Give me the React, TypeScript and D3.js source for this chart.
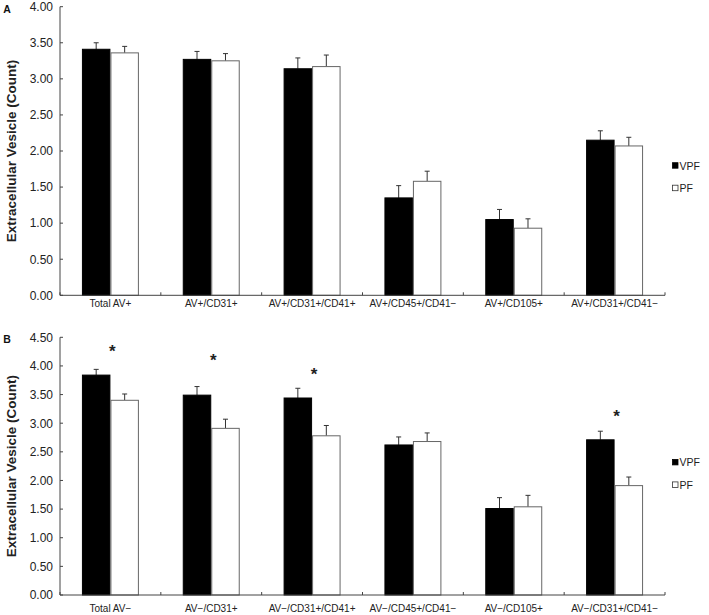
import React from "react";
import * as d3 from "d3";

// ---------- DATA ----------
const seriesNames = ["VPF", "PF"];

const categoriesA = ["Total AV+", "AV+/CD31+", "AV+/CD31+/CD41+", "AV+/CD45+/CD41\u2212", "AV+/CD105+", "AV+/CD31+/CD41\u2212"];
const vpfA = [3.41, 3.27, 3.14, 1.35, 1.05, 2.15];
const vpfErrA = [0.09, 0.11, 0.15, 0.17, 0.14, 0.13];
const pfA = [3.36, 3.25, 3.17, 1.58, 0.93, 2.07];
const pfErrA = [0.09, 0.10, 0.16, 0.14, 0.13, 0.12];
const ticksA = [0, 0.5, 1, 1.5, 2, 2.5, 3, 3.5, 4];

const categoriesB = ["Total AV\u2212", "AV\u2212/CD31+", "AV\u2212/CD31+/CD41+", "AV\u2212/CD45+/CD41\u2212", "AV\u2212/CD105+", "AV\u2212/CD31+/CD41\u2212"];
const vpfB = [3.84, 3.49, 3.44, 2.62, 1.51, 2.71];
const vpfErrB = [0.10, 0.15, 0.17, 0.14, 0.19, 0.15];
const pfB = [3.40, 2.91, 2.78, 2.68, 1.54, 1.91];
const pfErrB = [0.11, 0.16, 0.18, 0.15, 0.20, 0.15];
const ticksB = [0, 0.5, 1, 1.5, 2, 2.5, 3, 3.5, 4, 4.5];
const starsB = [4.31, 4.15, 3.92, null, null, 3.17];

const yTitle = "Extracellular Vesicle (Count)";

// ---------- LAYOUT ----------
const W = 709;
const H = 615;
const X0 = 60;
const X1 = 665;
const FONT = "Arial, 'Liberation Sans', Helvetica, sans-serif";
const AXIS = "#444";

type PanelProps = {
  letter: string;
  top: number;
  bottom: number;
  yMax: number;
  ticks: number[];
  categories: string[];
  vpf: number[];
  vpfErr: number[];
  pf: number[];
  pfErr: number[];
  stars?: (number | null)[];
  labelOffset: number;
  legendY: number;
};

function Panel(p: PanelProps) {
  const x = d3.scaleBand<string>().domain(p.categories).range([X0, X1]).padding(0);
  const y = d3.scaleLinear().domain([0, p.yMax]).range([p.bottom, p.top]);
  const groupW = x.bandwidth() * 0.565;
  const sub = d3.scaleBand<string>().domain(seriesNames).range([-groupW / 2, groupW / 2]).padding(0);
  const series = [
    { name: "VPF", vals: p.vpf, errs: p.vpfErr, fill: "#000", stroke: "#000" },
    { name: "PF", vals: p.pf, errs: p.pfErr, fill: "#fff", stroke: "#666" },
  ];
  const fmt = d3.format(".2f");
  const boundaries = [X0, ...p.categories.map((c) => (x(c) as number) + x.bandwidth())];
  return (
    <g>
      <text x={3.3} y={p.top + 6} fontFamily={FONT} fontWeight="bold" fontSize={10.5} fill="#111">
        {p.letter}
      </text>
      <text
        transform={`translate(15.5,${(p.top + p.bottom) / 2}) rotate(-90)`}
        textAnchor="middle"
        fontFamily={FONT}
        fontWeight="bold"
        fontSize={13.5}
        fill="#222"
      >
        {yTitle}
      </text>
      {/* bars */}
      {series.map((s) =>
        p.categories.map((c, i) => {
          const cx = (x(c) as number) + x.bandwidth() / 2;
          const bx = cx + (sub(s.name) as number);
          const bw = sub.bandwidth();
          const yv = y(s.vals[i]);
          const ye = y(s.vals[i] + s.errs[i]);
          const mx = bx + bw / 2;
          return (
            <g key={s.name + c}>
              <line x1={mx} x2={mx} y1={yv} y2={ye} stroke="#333" strokeWidth={1} />
              <line x1={mx - 2.5} x2={mx + 2.5} y1={ye} y2={ye} stroke="#333" strokeWidth={1} />
              <rect
                x={bx + 0.5}
                y={yv}
                width={bw - 1}
                height={p.bottom - yv}
                fill={s.fill}
                stroke={s.stroke}
                strokeWidth={1}
              />
            </g>
          );
        })
      )}
      {/* stars */}
      {p.stars &&
        p.stars.map((v, i) =>
          v == null ? null : (
            <text
              key={"st" + i}
              x={(x(p.categories[i]) as number) + x.bandwidth() / 2 + 2}
              y={y(v) + 9}
              textAnchor="middle"
              fontFamily={FONT}
              fontWeight="bold"
              fontSize={17}
              fill="#222"
            >
              *
            </text>
          )
        )}
      {/* y axis */}
      <line x1={X0} x2={X0} y1={p.top} y2={p.bottom} stroke={AXIS} strokeWidth={1} />
      {p.ticks.map((t) => (
        <g key={"t" + t}>
          <line x1={X0} x2={X0 + 3} y1={y(t)} y2={y(t)} stroke={AXIS} strokeWidth={1} />
          <text x={53} y={y(t)} dy="0.36em" textAnchor="end" fontFamily={FONT} fontSize={12} fill="#222">
            {fmt(t)}
          </text>
        </g>
      ))}
      {/* x axis */}
      <line x1={X0} x2={X1} y1={p.bottom} y2={p.bottom} stroke={AXIS} strokeWidth={1} />
      {boundaries.map((b, i) => (
        <line key={"b" + i} x1={b} x2={b} y1={p.bottom} y2={p.bottom - 3} stroke={AXIS} strokeWidth={1} />
      ))}
      {p.categories.map((c) => (
        <text
          key={"c" + c}
          x={(x(c) as number) + x.bandwidth() / 2}
          y={p.bottom + p.labelOffset}
          textAnchor="middle"
          fontFamily={FONT}
          fontSize={10}
          fill="#222"
        >
          {c}
        </text>
      ))}
      {/* legend */}
      {series.map((s, i) => (
        <g key={"lg" + s.name}>
          <rect
            x={672.5}
            y={p.legendY + i * 22.5 - 2.8}
            width={5.5}
            height={5.5}
            fill={s.fill}
            stroke={s.name === "PF" ? "#333" : "#000"}
            strokeWidth={0.8}
          />
          <text x={679.5} y={p.legendY + i * 22.5 + 4} fontFamily={FONT} fontSize={10.5} fill="#222">
            {s.name}
          </text>
        </g>
      ))}
    </g>
  );
}

export default function App() {
  return (
    <svg
      width={W}
      height={H}
      viewBox={`0 0 ${W} ${H}`}
      style={{ position: "absolute", left: 0, top: 0, background: "#fff" }}
    >
      <rect x={0} y={0} width={W} height={H} fill="#fff" />
      <Panel
        letter="A"
        top={6.7}
        bottom={295.3}
        yMax={4}
        ticks={ticksA}
        categories={categoriesA}
        vpf={vpfA}
        vpfErr={vpfErrA}
        pf={pfA}
        pfErr={pfErrA}
        labelOffset={11.5}
        legendY={165.5}
      />
      <Panel
        letter="B"
        top={337.3}
        bottom={595}
        yMax={4.5}
        ticks={ticksB}
        categories={categoriesB}
        vpf={vpfB}
        vpfErr={vpfErrB}
        pf={pfB}
        pfErr={pfErrB}
        stars={starsB}
        labelOffset={16.5}
        legendY={462.2}
      />
    </svg>
  );
}
